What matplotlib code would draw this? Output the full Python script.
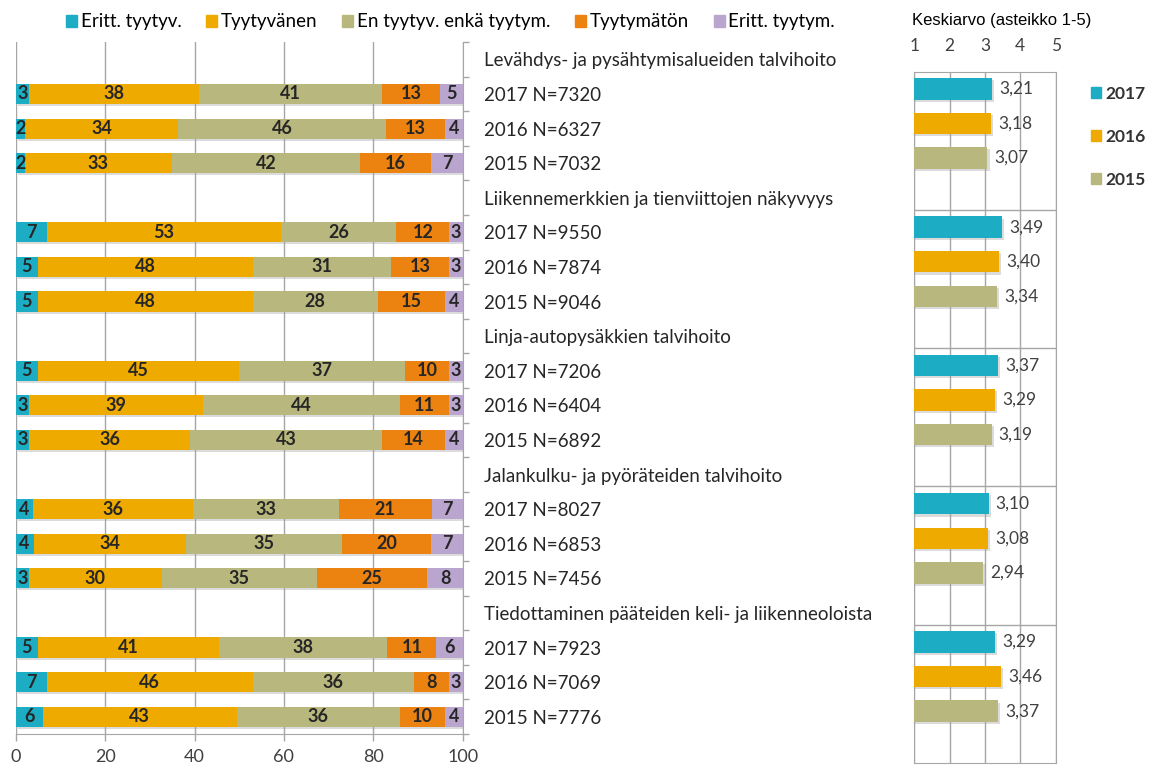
import matplotlib
matplotlib.use("Agg")
import matplotlib.pyplot as plt
import matplotlib.patheffects as pe
from matplotlib.patches import Patch
import numpy as np

plt.rcParams.update({
    "font.family": ["Lato", "DejaVu Sans"],
    "axes.unicode_minus": False,
})

# ─── data ─────────────────────────────────────────────
GROUPS = [
    "Levähdys- ja pysähtymisalueiden talvihoito",
    "Liikennemerkkien ja tienviittojen näkyvyys",
    "Linja-autopysäkkien talvihoito",
    "Jalankulku- ja pyöräteiden talvihoito",
    "Tiedottaminen pääteiden keli- ja liikenneoloista",
]
YEARS = ["2017", "2016", "2015"]
N_VALUES = [
    [7320, 6327, 7032],
    [9550, 7874, 9046],
    [7206, 6404, 6892],
    [8027, 6853, 7456],
    [7923, 7069, 7776],
]
SERIES = ["Eritt. tyytyv.", "Tyytyvänen", "En tyytyv. enkä tyytym.", "Tyytymätön", "Eritt. tyytym."]
# percentages per group, rows 2017/2016/2015, columns = SERIES
SHARES = [
    [[3, 38, 41, 13, 5], [2, 34, 46, 13, 4], [2, 33, 42, 16, 7]],
    [[7, 53, 26, 12, 3], [5, 48, 31, 13, 3], [5, 48, 28, 15, 4]],
    [[5, 45, 37, 10, 3], [3, 39, 44, 11, 3], [3, 36, 43, 14, 4]],
    [[4, 36, 33, 21, 7], [4, 34, 35, 20, 7], [3, 30, 35, 25, 8]],
    [[5, 41, 38, 11, 6], [7, 46, 36, 8, 3], [6, 43, 36, 10, 4]],
]
MEANS = [
    [3.21, 3.18, 3.07],
    [3.49, 3.40, 3.34],
    [3.37, 3.29, 3.19],
    [3.10, 3.08, 2.94],
    [3.29, 3.46, 3.37],
]

SERIES_COLORS = ["#1CADC4", "#EFAA00", "#B8B87E", "#EC8210", "#B9A5CD"]
YEAR_COLORS = ["#1CADC4", "#EFAA00", "#B8B87E"]
GRID = "#A6A6A6"
TXT = "#262626"

shadow = [pe.SimplePatchShadow(offset=(1.5, -1.5), shadow_rgbFace="#9a9a9a", alpha=0.35), pe.Normal()]

fig = plt.figure(figsize=(11.56, 7.74), dpi=100)

# ─── left: 100 % stacked bars ─────────────────────────
ax = fig.add_axes([0.01358, 0.05168, 0.3867, 0.894])

labels, rows, data = [], [], []
r = 0
for g, name in enumerate(GROUPS):
    labels.append(name)
    r += 1
    for i, yr in enumerate(YEARS):
        labels.append(f"{yr} N={N_VALUES[g][i]}")
        rows.append(r)
        data.append(SHARES[g][i])
        r += 1
rows = np.array(rows)
data = np.array(data, dtype=float)
norm = data / data.sum(axis=1, keepdims=True) * 100

left = np.zeros(len(rows))
for k, name in enumerate(SERIES):
    bars = ax.barh(rows, norm[:, k], left=left, height=0.58, color=SERIES_COLORS[k],
                   label=name, zorder=3)
    for b in bars:
        b.set_path_effects(shadow)
    for y, x0, w, v in zip(rows, left, norm[:, k], data[:, k]):
        ax.text(x0 + w / 2, y, f"{int(v)}", ha="center", va="center",
                fontsize=13, fontweight="bold", color=TXT, zorder=4)
    left += norm[:, k]

ax.set_xlim(0, 100)
ax.set_ylim(len(labels) - 0.5, -0.5)
ax.set_xticks(range(0, 101, 20))
ax.set_yticks(range(len(labels)))
ax.set_yticklabels(labels)
ax.set_yticks(np.arange(-0.5, len(labels), 1), minor=True)
ax.yaxis.tick_right()
ax.tick_params(axis="y", which="major", length=0, pad=15, labelsize=13.5, labelcolor=TXT)
ax.tick_params(axis="y", which="minor", length=4, color=GRID, width=1)
ax.tick_params(axis="x", length=5, color=GRID, width=1, pad=6, labelsize=13, labelcolor="#404040")
ax.grid(axis="x", color=GRID, lw=1, zorder=0)
for s in ["top", "left"]:
    ax.spines[s].set_visible(False)
for s in ["bottom", "right"]:
    ax.spines[s].set_color(GRID)

fig.legend(handles=[Patch(color=c, label=n) for c, n in zip(SERIES_COLORS, SERIES)],
           loc="center left", bbox_to_anchor=(66 / 1156, 1 - 22 / 774), ncol=5, frameon=False,
           fontsize=13.5, handlelength=0.6, handleheight=0.6, handletextpad=0.2,
           columnspacing=1.3, borderaxespad=0, borderpad=0)

# ─── right: means ─────────────────────────────────────
ax2 = fig.add_axes([0.7909, 0.01421, 0.1223, 0.8932])
mrows, mvals, mcols = [], [], []
for g in range(len(GROUPS)):
    for i in range(len(YEARS)):
        mrows.append(g * 4 + i)
        mvals.append(MEANS[g][i])
        mcols.append(YEAR_COLORS[i])
bars = ax2.barh(mrows, mvals, height=0.62, color=mcols, zorder=3)
for b in bars:
    b.set_path_effects(shadow)
for y, v in zip(mrows, mvals):
    ax2.text(v + 0.2, y, f"{v:.2f}".replace(".", ","), ha="left", va="center",
             fontsize=12.5, color="#404040", zorder=4)

ax2.set_xlim(1, 5)
ax2.set_ylim(len(GROUPS) * 4 - 0.5, -0.5)
ax2.set_xticks([1, 2, 3, 4, 5])
ax2.xaxis.tick_top()
ax2.tick_params(axis="x", length=0, pad=13, labelsize=12.5, labelcolor="#404040")
ax2.set_yticks([])
ax2.grid(axis="x", color=GRID, lw=1, zorder=0)
for g in range(1, len(GROUPS)):
    ax2.axhline(g * 4 - 0.5, color=GRID, lw=1, zorder=0)
for s in ax2.spines.values():
    s.set_color(GRID)

fig.text(912 / 1156, 1 - 20 / 774, "Keskiarvo (asteikko 1-5)", family="Liberation Sans",
         fontsize=12, va="center", ha="left", color="black")

fig.legend(handles=[Patch(color=c, label=y) for c, y in zip(YEAR_COLORS, YEARS)],
           loc="upper left", bbox_to_anchor=(1091 / 1156, 1 - 86 / 774), frameon=False,
           handlelength=0.6, handleheight=0.6, handletextpad=0.25,
           labelspacing=1.55, borderaxespad=0, borderpad=0,
           prop={"weight": "bold", "size": 12.5}, labelcolor="#333333")

fig.savefig("out.png", dpi=100)
